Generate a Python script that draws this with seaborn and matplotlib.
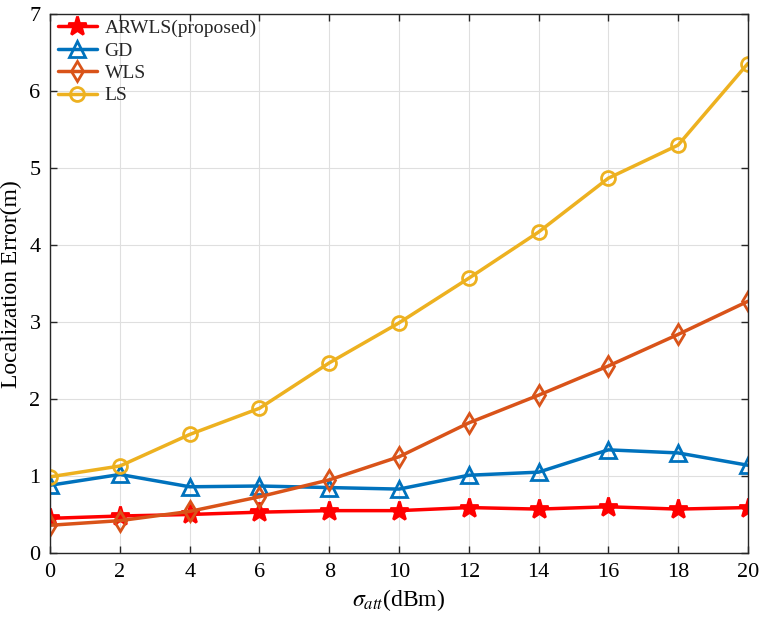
import numpy as np
import pandas as pd
import matplotlib
matplotlib.use("Agg")
import matplotlib.pyplot as plt
import seaborn as sns

x_vals = [0, 2, 4, 6, 8, 10, 12, 14, 16, 18, 20]
arwls = [0.45, 0.48, 0.50, 0.53, 0.55, 0.55, 0.59, 0.57, 0.60, 0.57, 0.59]
gd = [0.88, 1.02, 0.86, 0.87, 0.85, 0.83, 1.01, 1.05, 1.34, 1.30, 1.14]
wls = [0.36, 0.42, 0.54, 0.73, 0.95, 1.25, 1.69, 2.05, 2.43, 2.84, 3.27]
ls = [0.99, 1.13, 1.54, 1.88, 2.47, 2.99, 3.57, 4.17, 4.87, 5.30, 6.36]
names = ["ARWLS(proposed)", "GD", "WLS", "LS"]

sns.set_theme(style="whitegrid")
plt.rcParams['font.family'] = ['Liberation Serif', 'DejaVu Serif']
plt.rcParams['mathtext.fontset'] = 'stix'

fig = plt.figure(figsize=(7.6, 6.22), dpi=100)
ax = fig.add_axes([0.066, 0.111, 0.918, 0.866])

series = [arwls, gd, wls, ls]
colors = ["#FF0000", "#0072BD", "#D95319", "#EDB120"]
markers = ["*", "^", "d", "o"]
msizes = [14, 11, 10, 10]
for name, vals, c, m, ms in zip(names, series, colors, markers, msizes):
    df = pd.DataFrame({"x": x_vals, "y": vals})
    filled = (m == "*")
    sns.lineplot(data=df, x="x", y="y", ax=ax, color=c, linewidth=2.5,
                 marker=m, markersize=ms, markeredgewidth=2,
                 markerfacecolor=c if filled else "none", markeredgecolor=c,
                 label=name)

ax.set_xlim(0, 20)
ax.set_ylim(0, 7)
ax.set_xticks(range(0, 21, 2))
ax.set_yticks(range(0, 8))
ax.tick_params(axis='both', direction='in', length=5, width=1, colors='#262626',
               labelsize=16, top=True, right=True, bottom=True, left=True, pad=7)
for lab in ax.get_xticklabels() + ax.get_yticklabels():
    lab.set_color('black')
for s in ax.spines.values():
    s.set_color('#262626')
    s.set_linewidth(1.0)
ax.grid(True, color='#DFDFDF', linewidth=0.8)
ax.set_facecolor('white')
ax.set_xlabel(r"$\sigma_{att}$(dBm)", fontsize=17, color='black', labelpad=4)
ax.set_ylabel("Localization Error(m)", fontsize=17, color='black', labelpad=5)

leg = ax.legend(loc='upper left', frameon=False, fontsize=14, handlelength=2.0,
                borderaxespad=0.0, labelspacing=0.25, handletextpad=0.4,
                bbox_to_anchor=(0.0, 1.005))

fig.savefig("out.png", dpi=100)
